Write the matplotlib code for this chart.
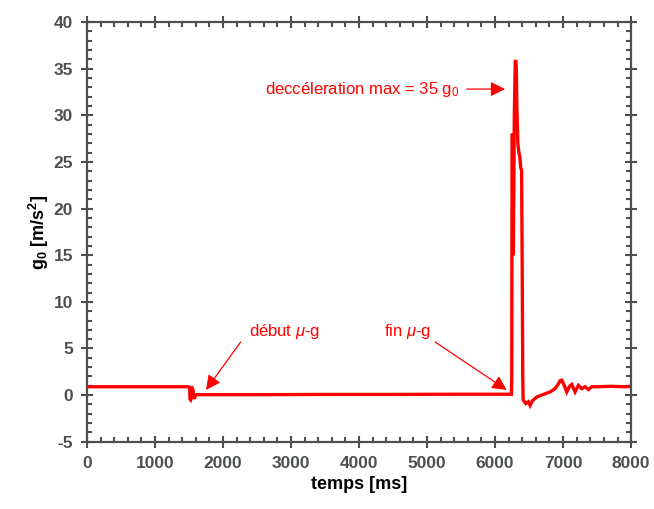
import matplotlib.pyplot as plt
from matplotlib.ticker import MultipleLocator

# trace of the acceleration
temps_ms = [0, 1000, 1480, 1510, 1515, 1525, 1535, 1540, 1550, 1560, 1570, 1585, 1600, 1613,
            2500, 3500, 4500, 5500, 6200, 6240, 6245, 6250, 6258, 6262, 6268, 6275, 6283,
            6290, 6297, 6304, 6312, 6320, 6335, 6350, 6365, 6375, 6390, 6400, 6407, 6412,
            6450, 6490, 6515, 6550, 6613, 6700, 6809, 6882, 6930, 6956, 6980, 7005, 7054,
            7090, 7127, 7176, 7225, 7274, 7323, 7372, 7421, 7500, 7700, 7900, 8000]
g0 = [0.9, 0.9, 0.9, 0.85, -0.4, -0.5, -0.3, 0.6, 0.7, 0.5, -0.4, -0.2, 0.0, 0.05,
      0.05, 0.08, 0.08, 0.1, 0.1, 0.1, 2.0, 27.9, 28.0, 20.0, 15.0, 22.0, 30.0,
      33.0, 35.8, 35.9, 35.0, 31.0, 27.0, 26.0, 25.5, 24.5, 24.0, 12.0, 2.0, -0.5,
      -0.9, -0.7, -1.1, -0.6, -0.2, 0.05, 0.35, 0.7, 1.2, 1.55, 1.6, 1.25, 0.35,
      0.9, 1.15, 0.35, 1.05, 0.7, 0.9, 0.6, 0.9, 0.9, 0.95, 0.9, 0.95]

plt.rcParams['font.family'] = ['Liberation Sans', 'DejaVu Sans']
plt.rcParams['mathtext.fontset'] = 'custom'
plt.rcParams['mathtext.rm'] = 'Liberation Sans'
plt.rcParams['mathtext.it'] = 'Liberation Sans:italic'
plt.rcParams['mathtext.bf'] = 'Liberation Sans:bold'
plt.rcParams['axes.unicode_minus'] = False

axis_grey = '#4d5050'

fig = plt.figure(figsize=(6.54, 5.09), dpi=100)
ax = fig.add_axes([0.133, 0.132, 0.832, 0.825])

ax.plot(temps_ms, g0, color='#ff0000', linewidth=2.4, solid_joinstyle='miter')

ax.set_xlim(0, 8000)
ax.set_ylim(-5, 40)
ax.xaxis.set_major_locator(MultipleLocator(1000))
ax.xaxis.set_minor_locator(MultipleLocator(200))
ax.yaxis.set_major_locator(MultipleLocator(5))
ax.yaxis.set_minor_locator(MultipleLocator(1))

for side in ax.spines.values():
    side.set_color(axis_grey)
    side.set_linewidth(1.6)

ax.tick_params(which='both', top=True, right=True, color=axis_grey, width=1.5)
ax.tick_params(which='major', direction='inout', length=8, labelsize=12.5,
               labelcolor=axis_grey, pad=6)
ax.tick_params(which='minor', direction='in', length=3.5)
for lab in ax.get_xticklabels() + ax.get_yticklabels():
    lab.set_fontweight('bold')

ax.set_xlabel('temps [ms]', fontsize=13, fontweight='bold', labelpad=4)
ax.set_ylabel(r'g$_\mathbf{0}$ [m/s$^\mathbf{2}$]', fontsize=13, fontweight='bold', labelpad=2)

# annotations
arrow = dict(arrowstyle='-|>', color='#ff0000', lw=0.9, mutation_scale=22, shrinkA=0, shrinkB=0)
ax.annotate('', xy=(6147, 32.8), xytext=(5584, 32.8), arrowprops=arrow)
ax.text(2620, 32.8, r'deccéleration max = 35 g$_0$', color='#ff0000', fontsize=12,
        va='center', ha='left')

ax.annotate('', xy=(1750, 0.55), xytext=(2260, 5.7), arrowprops=arrow)
ax.text(2380, 6.8, r'début $\mu$-g', color='#ff0000', fontsize=12, va='center', ha='left')

ax.annotate('', xy=(6172, 0.55), xytext=(5118, 5.7), arrowprops=arrow)
ax.text(4360, 6.8, r'fin $\mu$-g', color='#ff0000', fontsize=12, va='center', ha='left')

fig.savefig('out.png', dpi=100)
